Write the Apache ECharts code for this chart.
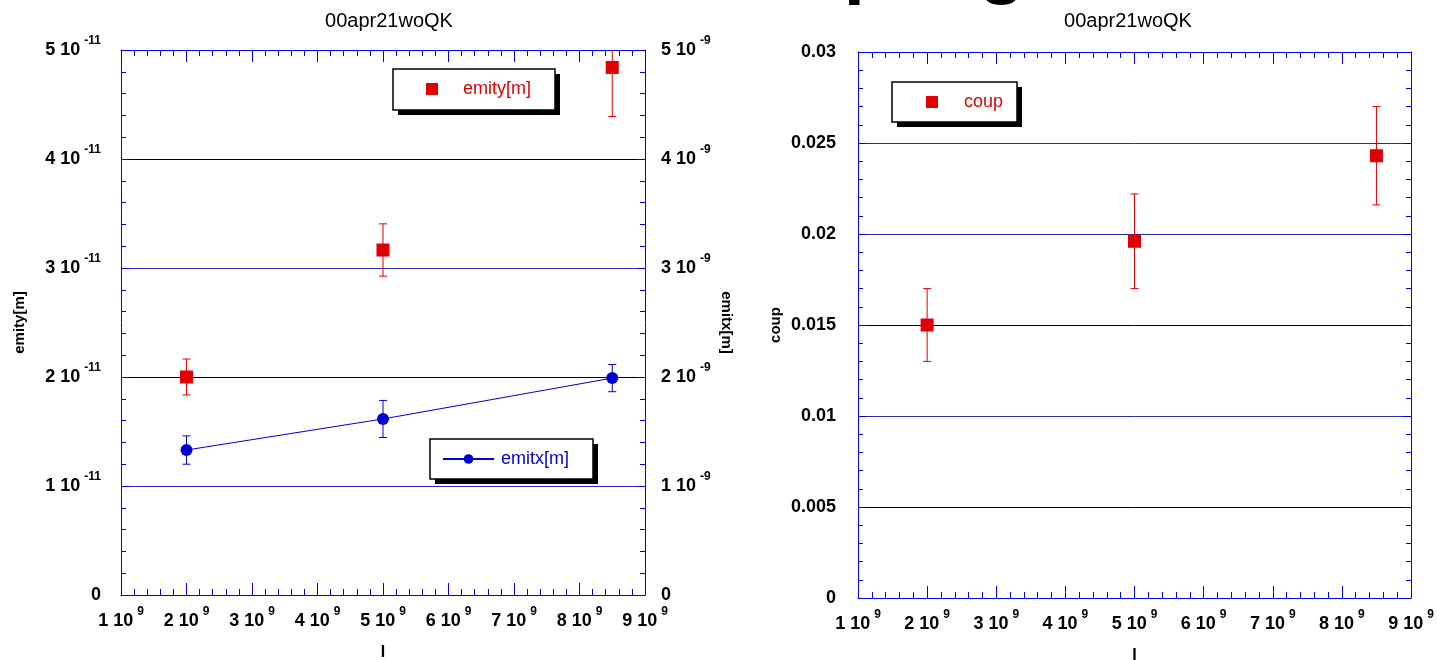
<!DOCTYPE html>
<html>
<head>
<meta charset="utf-8">
<script src="https://cdn.jsdelivr.net/npm/echarts@6/dist/echarts.min.js"></script>
<style>
  html, body { margin: 0; padding: 0; background: #fff; }
  #chart { width: 1437px; height: 660px; }
</style>
</head>
<body>
<div id="chart"></div>
<script>
// beam current I (x axis, both panels)
const current = [2e9, 5e9, 8.5e9];
// left panel
const emity = [2.0e-11, 3.165e-11, 4.84e-11];
const emityErr = [0.165e-11, 0.24e-11, 0.45e-11];
const emitx = [1.33e-9, 1.615e-9, 1.99e-9];
const emitxErr = [0.13e-9, 0.17e-9, 0.125e-9];
// right panel
const coup = [0.015, 0.0196, 0.0243];
const coupErr = [0.002, 0.0026, 0.0027];

// tick labels
const xMantissa = ['1', '2', '3', '4', '5', '6', '7', '8', '9'];
const xExp = '9';
const emityMantissa = ['0', '1', '2', '3', '4', '5'];
const emityExp = '-11';
const emitxMantissa = ['0', '1', '2', '3', '4', '5'];
const emitxExp = '-9';
const coupTicks = ['0', '0.005', '0.01', '0.015', '0.02', '0.025', '0.03'];

const FONT = '"Liberation Sans", Arial, Helvetica, sans-serif';
const red = '#e00000';
const dblue = '#0000cc';
const axisBlue = '#0000ff';
const gridBlack = '#000';
const gridBlue = '#2a2ab0';

const chart = echarts.init(document.getElementById('chart'));

const rich = {
  a: {fontFamily: FONT, fontSize: 18, fontWeight: 'bold', color: '#000', lineHeight: 30},
  s: {fontFamily: FONT, fontSize: 12, fontWeight: 'bold', color: '#000', lineHeight: 16,
      verticalAlign: 'top', padding: [0, 0, 0, 4]}
};
function sci(mant, exp, step, offset) {
  return function (v) {
    const m = mant[Math.round(v / step) - offset];
    if (m === '0') return '{a|0}';
    return '{a|' + m + ' 10}{s|' + exp + '}';
  };
}

function errorBars(color) {
  return function (params, api) {
    const x = api.value(0), y = api.value(1), e = api.value(2);
    const top = api.coord([x, y + e]);
    const bot = api.coord([x, y - e]);
    const w = 4;
    const st = {stroke: color, lineWidth: 1};
    return {
      type: 'group',
      children: [
        {type: 'line', shape: {x1: top[0], y1: top[1], x2: bot[0], y2: bot[1]}, style: st},
        {type: 'line', shape: {x1: top[0] - w, y1: top[1], x2: top[0] + w, y2: top[1]}, style: st},
        {type: 'line', shape: {x1: bot[0] - w, y1: bot[1], x2: bot[0] + w, y2: bot[1]}, style: st}
      ]
    };
  };
}

// legend frame with a hard black drop shadow
function legendBox(x, y, w, h) {
  return {
    type: 'group', z: 10, silent: true,
    children: [
      {type: 'rect', shape: {x: x + 5, y: y + 5, width: w, height: h}, style: {fill: '#000'}},
      {type: 'rect', shape: {x: x, y: y, width: w, height: h},
       style: {fill: '#fff', stroke: '#000', lineWidth: 1.5}}
    ]
  };
}

function xAxisDef(gridIndex, position, withLabels) {
  return {
    type: 'value',
    gridIndex: gridIndex,
    position: position,
    min: 1e9,
    max: 9e9,
    interval: 1e9,
    name: withLabels ? 'I' : '',
    nameLocation: 'middle',
    nameGap: 50,
    nameTextStyle: {fontFamily: FONT, fontSize: 16, fontWeight: 'bold', color: '#000'},
    axisLine: {show: true, onZero: false, lineStyle: {color: axisBlue, width: 1}},
    axisTick: {show: true, inside: true, length: 12, lineStyle: {color: axisBlue}},
    minorTick: {show: true, splitNumber: 5, length: 6, lineStyle: {color: axisBlue}},
    axisLabel: {
      show: withLabels,
      margin: 11,
      formatter: sci(xMantissa, xExp, 1e9, 1),
      rich: rich
    },
    splitLine: {show: false}
  };
}

function yAxisDef(gridIndex, position, max, interval) {
  return {
    type: 'value', gridIndex: gridIndex, position: position,
    min: 0, max: max, interval: interval,
    nameLocation: 'middle',
    nameTextStyle: {fontFamily: FONT, fontSize: 15, fontWeight: 'bold', color: '#000'},
    axisLine: {show: true, onZero: false, lineStyle: {color: axisBlue, width: 1}},
    axisTick: {show: true, inside: true, length: 8, lineStyle: {color: axisBlue}},
    minorTick: {show: true, splitNumber: 5, length: 5, lineStyle: {color: axisBlue}},
    splitLine: {show: false}
  };
}

const yEmity = Object.assign(yAxisDef(0, 'left', 5e-11, 1e-11), {
  name: 'emity[m]', nameGap: 94, nameRotate: 90,
  axisLabel: {margin: 20, formatter: sci(emityMantissa, emityExp, 1e-11, 0), rich: rich},
  splitLine: {show: true, lineStyle: {color: [gridBlack, gridBlue], width: 1}}
});
const yEmitx = Object.assign(yAxisDef(0, 'right', 5e-9, 1e-9), {
  name: 'emitx[m]', nameGap: 74, nameRotate: -90,
  axisLabel: {margin: 16, formatter: sci(emitxMantissa, emitxExp, 1e-9, 0), rich: rich}
});
const yCoup = Object.assign(yAxisDef(1, 'left', 0.03, 0.005), {
  name: 'coup', nameGap: 75, nameRotate: 90,
  axisLabel: {
    margin: 22,
    formatter: function (v) { return '{a|' + coupTicks[Math.round(v / 0.005)] + '}'; },
    rich: rich
  },
  splitLine: {show: true, lineStyle: {
    color: [gridBlack, gridBlack, gridBlue, gridBlack, gridBlue, gridBlue, gridBlack], width: 1}}
});
const yCoupRight = Object.assign(yAxisDef(1, 'right', 0.03, 0.005), {
  axisLabel: {show: false}
});

const legendText = {fontFamily: FONT, fontSize: 18};

const option = {
  animation: false,
  backgroundColor: '#fff',
  title: [
    {text: '00apr21woQK', left: 384, top: 6, textAlign: 'center',
     textStyle: {fontFamily: FONT, fontSize: 20, fontWeight: 'normal', color: '#000'}},
    {text: '00apr21woQK', left: 1123, top: 6, textAlign: 'center',
     textStyle: {fontFamily: FONT, fontSize: 20, fontWeight: 'normal', color: '#000'}}
  ],
  graphic: [
    {type: 'text', left: 696, top: -70, silent: true,
     style: {text: 'Coupling', font: 'bold 76px ' + FONT, fill: '#000'}},
    legendBox(393, 69, 162, 41),
    legendBox(430, 439, 163, 40),
    legendBox(892, 82, 125, 40)
  ],
  grid: [
    {left: 121, right: 792, top: 50, bottom: 65, outerBoundsMode: 'none'},
    {left: 858, right: 26, top: 52, bottom: 62, outerBoundsMode: 'none'}
  ],
  legend: [
    {
      left: 426, top: 80, z: 20, selectedMode: false, padding: 0,
      data: [{name: 'emity[m]', icon: 'rect', itemStyle: {opacity: 1}, textStyle: {color: red}}],
      itemWidth: 12, itemHeight: 12,
      textStyle: Object.assign({padding: [0, 0, 0, 20]}, legendText)
    },
    {
      left: 442, top: 450, z: 20, selectedMode: false, padding: 0,
      data: [{name: 'emitx[m]', textStyle: {color: dblue}}],
      itemWidth: 51, itemHeight: 12,
      textStyle: Object.assign({padding: [0, 0, 0, 2]}, legendText)
    },
    {
      left: 926, top: 93, z: 20, selectedMode: false, padding: 0,
      data: [{name: 'coup', icon: 'rect', itemStyle: {opacity: 1}, textStyle: {color: red}}],
      itemWidth: 12, itemHeight: 12,
      textStyle: Object.assign({padding: [0, 0, 0, 21]}, legendText)
    }
  ],
  xAxis: [
    xAxisDef(0, 'bottom', true),
    xAxisDef(0, 'top', false),
    xAxisDef(1, 'bottom', true),
    xAxisDef(1, 'top', false)
  ],
  yAxis: [yEmity, yEmitx, yCoup, yCoupRight],
  series: [
    {
      name: 'emity-err', type: 'custom', xAxisIndex: 0, yAxisIndex: 0, clip: true, z: 1,
      renderItem: errorBars(red),
      encode: {x: 0, y: 1},
      data: current.map((x, i) => [x, emity[i], emityErr[i]])
    },
    {
      name: 'emity[m]', type: 'scatter', xAxisIndex: 0, yAxisIndex: 0, z: 3,
      symbol: 'rect', symbolSize: 13,
      itemStyle: {color: red, opacity: 1},
      data: current.map((x, i) => [x, emity[i]])
    },
    {
      name: 'emitx-err', type: 'custom', xAxisIndex: 0, yAxisIndex: 1, clip: true, z: 1,
      renderItem: errorBars(dblue),
      encode: {x: 0, y: 1},
      data: current.map((x, i) => [x, emitx[i], emitxErr[i]])
    },
    {
      name: 'emitx[m]', type: 'line', xAxisIndex: 0, yAxisIndex: 1, z: 3,
      symbol: 'circle', symbolSize: 12, showSymbol: true,
      lineStyle: {color: dblue, width: 1},
      itemStyle: {color: dblue, opacity: 1},
      data: current.map((x, i) => [x, emitx[i]])
    },
    {
      name: 'coup-err', type: 'custom', xAxisIndex: 2, yAxisIndex: 2, clip: true, z: 1,
      renderItem: errorBars(red),
      encode: {x: 0, y: 1},
      data: current.map((x, i) => [x, coup[i], coupErr[i]])
    },
    {
      name: 'coup', type: 'scatter', xAxisIndex: 2, yAxisIndex: 2, z: 3,
      symbol: 'rect', symbolSize: 13,
      itemStyle: {color: red, opacity: 1},
      data: current.map((x, i) => [x, coup[i]])
    }
  ]
};

chart.setOption(option);
</script>
</body>
</html>
